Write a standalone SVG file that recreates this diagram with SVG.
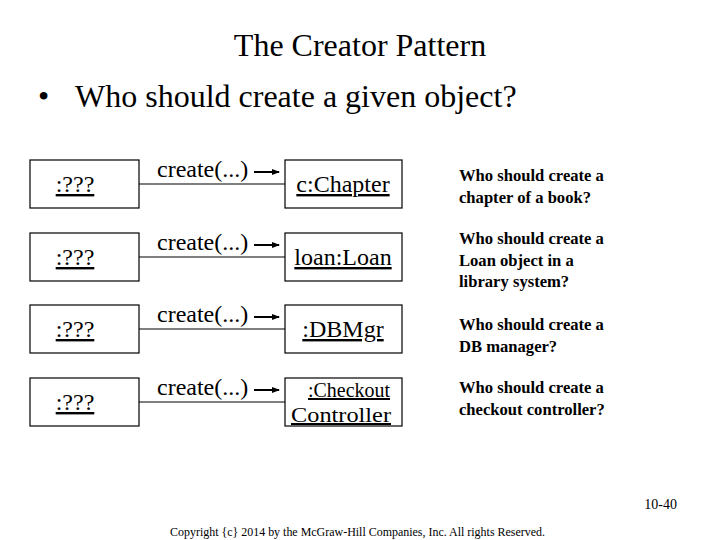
<svg xmlns="http://www.w3.org/2000/svg" width="720" height="540" viewBox="0 0 720 540">
<style>
text{font-family:"Liberation Serif","Times New Roman",serif;fill:#000}
.box{fill:#fff;stroke:#000;stroke-width:1.2}
.obj{font-size:24px;text-decoration:underline;text-anchor:middle}
.msg{font-size:24px}
.q{font-size:16.6px;font-weight:bold}
.link{stroke:#000;stroke-width:1.2;fill:none}
.arr{stroke:#000;stroke-width:2;fill:none}
</style>
<defs>
<marker id="ah" markerWidth="8" markerHeight="8" refX="7" refY="4" orient="auto" markerUnits="userSpaceOnUse">
<path d="M0,1 L8,4 L0,7 Z" fill="#000"/>
</marker>
</defs>
<rect width="720" height="540" fill="#fff"/>
<text x="360" y="56" font-size="32" text-anchor="middle">The Creator Pattern</text>
<text x="38" y="107" font-size="32">•</text>
<text x="75" y="107" font-size="32">Who should create a given object?</text>

<g id="connectors">
<line class="link" x1="139" y1="184" x2="285" y2="184"/>
<line class="link" x1="139" y1="257" x2="285" y2="257"/>
<line class="link" x1="139" y1="329" x2="285" y2="329"/>
<line class="link" x1="139" y1="402" x2="285" y2="402"/>
<line class="arr" x1="254" y1="172" x2="279" y2="172" marker-end="url(#ah)"/>
<line class="arr" x1="254" y1="245" x2="279" y2="245" marker-end="url(#ah)"/>
<line class="arr" x1="254" y1="317" x2="279" y2="317" marker-end="url(#ah)"/>
<line class="arr" x1="254" y1="390" x2="279" y2="390" marker-end="url(#ah)"/>
<text class="msg" x="157" y="177">create(...)</text>
<text class="msg" x="157" y="250">create(...)</text>
<text class="msg" x="157" y="322">create(...)</text>
<text class="msg" x="157" y="395">create(...)</text>
</g>

<g id="creator1"><rect class="box" x="30" y="160" width="109" height="48"/><text class="obj" x="75" y="192">:???</text></g>
<g id="creator2"><rect class="box" x="30" y="233" width="109" height="48"/><text class="obj" x="75" y="265">:???</text></g>
<g id="creator3"><rect class="box" x="30" y="305" width="109" height="48"/><text class="obj" x="75" y="337">:???</text></g>
<g id="creator4"><rect class="box" x="30" y="378" width="109" height="48"/><text class="obj" x="75" y="410">:???</text></g>

<g id="chapter"><rect class="box" x="285" y="160" width="117" height="48"/><text class="obj" x="343" y="192">c:Chapter</text></g>
<g id="loan"><rect class="box" x="285" y="233" width="117" height="48"/><text class="obj" x="343" y="265">loan:Loan</text></g>
<g id="dbmgr"><rect class="box" x="285" y="305" width="117" height="48"/><text class="obj" x="343" y="337">:DBMgr</text></g>
<g id="checkout"><rect class="box" x="285" y="378" width="117" height="48"/>
<text class="obj" x="349" y="397" style="font-size:20px" textLength="82" lengthAdjust="spacingAndGlyphs">:Checkout</text>
<text class="obj" x="341" y="422" style="font-size:20px" textLength="100" lengthAdjust="spacingAndGlyphs">Controller</text></g>

<g id="q1"><text class="q" x="459" y="181">Who should create a</text><text class="q" x="459" y="203">chapter of a book?</text></g>
<g id="q2"><text class="q" x="459" y="244">Who should create a</text><text class="q" x="459" y="266">Loan object in a</text><text class="q" x="459" y="287">library system?</text></g>
<g id="q3"><text class="q" x="459" y="330">Who should create a</text><text class="q" x="459" y="352">DB manager?</text></g>
<g id="q4"><text class="q" x="459" y="393">Who should create a</text><text class="q" x="459" y="415">checkout controller?</text></g>

<text x="677" y="509" font-size="14" text-anchor="end">10-40</text>
<text x="170" y="536" font-size="12" textLength="375" lengthAdjust="spacingAndGlyphs">Copyright {c} 2014 by the McGraw-Hill Companies, Inc. All rights Reserved.</text>
</svg>
